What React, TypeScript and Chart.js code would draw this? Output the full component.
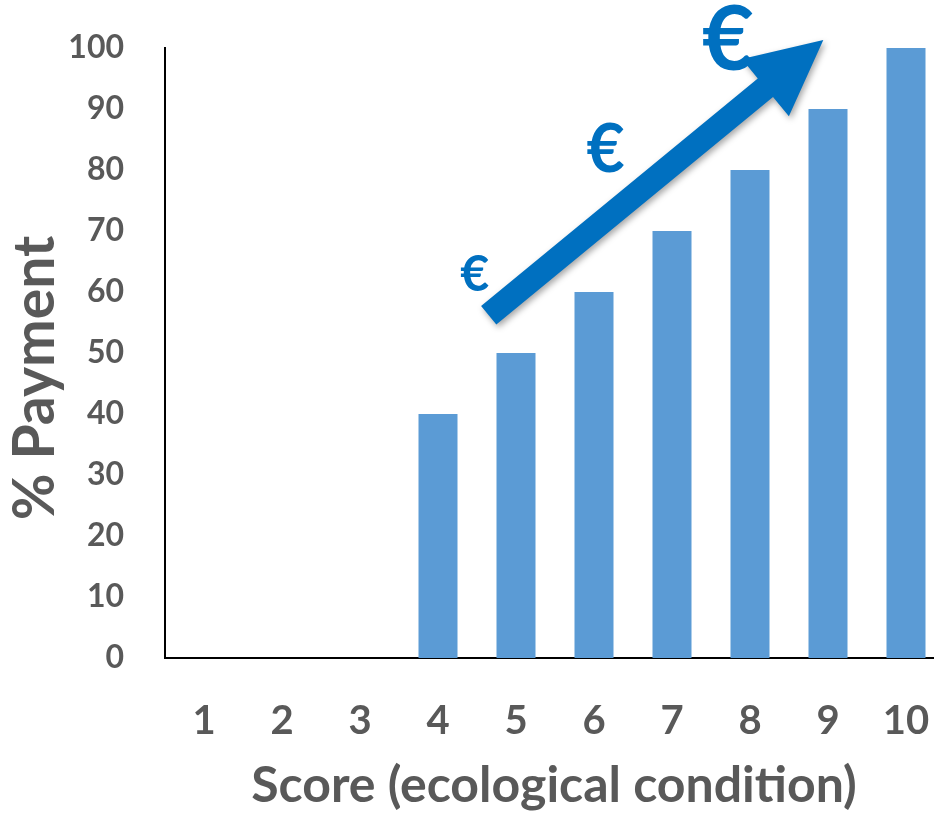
import React, { useEffect, useRef } from "react";
import { Chart, registerables } from "chart.js";

Chart.register(...registerables);

const categories = ["1", "2", "3", "4", "5", "6", "7", "8", "9", "10"];
const payment = [0, 0, 0, 40, 50, 60, 70, 80, 90, 100];
const yTicks = [0, 10, 20, 30, 40, 50, 60, 70, 80, 90, 100];
const xTitle = "Score (ecological condition)";
const yTitle = "% Payment";
// Arrow annotation (category index, value)
const arrowFrom = [3.65, 56.2];
const arrowTo = [7.94, 101.3];
// Euro symbols (category index, value, font size)
const euroX = [3.47, 5.15, 6.72];
const euroY = [62.8, 83.1, 101.1];
const euroSize = [50, 66, 90];

const FONT = "Lato, 'Open Sans', sans-serif";
const TEXT = "#595959";
const BLUE = "#0070C0";

const overlay = {
  id: "overlay",
  afterDatasetsDraw(chart: any) {
    const ctx = chart.ctx;
    const xs = chart.scales.x;
    const ys = chart.scales.y;
    const x0 = xs.getPixelForValue(arrowFrom[0]);
    const y0 = ys.getPixelForValue(arrowFrom[1]);
    const x1 = xs.getPixelForValue(arrowTo[0]);
    const y1 = ys.getPixelForValue(arrowTo[1]);
    const dx = x1 - x0, dy = y1 - y0;
    const len = Math.sqrt(dx * dx + dy * dy);
    const ux = dx / len, uy = dy / len;
    const nx = -uy, ny = ux;
    const shaftW = 24, headW = 74, headL = 75;
    const bx = x1 - ux * headL, by = y1 - uy * headL;
    ctx.save();
    ctx.shadowColor = "rgba(0,0,0,0.35)";
    ctx.shadowBlur = 6;
    ctx.shadowOffsetX = 2;
    ctx.shadowOffsetY = 3;
    ctx.fillStyle = BLUE;
    ctx.beginPath();
    ctx.moveTo(x0 + nx * shaftW / 2, y0 + ny * shaftW / 2);
    ctx.lineTo(bx + nx * shaftW / 2, by + ny * shaftW / 2);
    ctx.lineTo(bx + nx * headW / 2, by + ny * headW / 2);
    ctx.lineTo(x1, y1);
    ctx.lineTo(bx - nx * headW / 2, by - ny * headW / 2);
    ctx.lineTo(bx - nx * shaftW / 2, by - ny * shaftW / 2);
    ctx.lineTo(x0 - nx * shaftW / 2, y0 - ny * shaftW / 2);
    ctx.closePath();
    ctx.fill();
    ctx.restore();
    ctx.save();
    ctx.fillStyle = BLUE;
    ctx.textAlign = "center";
    ctx.textBaseline = "middle";
    for (let i = 0; i < euroX.length; i++) {
      ctx.font = `bold ${euroSize[i]}px ${FONT}`;
      ctx.fillText("€", xs.getPixelForValue(euroX[i]), ys.getPixelForValue(euroY[i]));
    }
    ctx.restore();
  },
  afterDraw(chart: any) {
    const ctx = chart.ctx;
    const area = chart.chartArea;
    ctx.save();
    ctx.fillStyle = TEXT;
    ctx.textAlign = "center";
    ctx.textBaseline = "middle";
    ctx.font = `bold 50px ${FONT}`;
    ctx.fillText(xTitle, 554, area.bottom + 128);
    ctx.translate(36, 378);
    ctx.rotate(-Math.PI / 2);
    ctx.font = `bold 57px ${FONT}`;
    ctx.fillText(yTitle, 0, 0);
    ctx.restore();
  },
};

function zeroPad(scale: any) {
  scale.paddingTop = 0;
  scale.paddingBottom = 0;
  scale.paddingLeft = 0;
  scale.paddingRight = 0;
}

export default function App() {
  const ref = useRef<HTMLCanvasElement>(null);
  useEffect(() => {
    if (!ref.current) return;
    const chart = new Chart(ref.current, {
      type: "bar",
      data: {
        labels: categories,
        datasets: [
          {
            data: payment,
            backgroundColor: "#5B9BD5",
            borderWidth: 0,
            barPercentage: 0.5,
            categoryPercentage: 1,
          },
        ],
      },
      options: {
        responsive: false,
        animation: false,
        layout: { padding: { top: 48, right: 5, left: 0, bottom: 0 } },
        plugins: { legend: { display: false }, tooltip: { enabled: false } },
        scales: {
          x: {
            grid: { display: false },
            border: { display: true, color: "#000", width: 2 },
            ticks: {
              color: TEXT,
              font: { family: FONT, size: 40, weight: "bold" },
              padding: 31,
              maxRotation: 0,
            },
            afterFit(scale: any) {
              scale.height = 157;
              zeroPad(scale);
            },
          },
          y: {
            min: 0,
            max: 100,
            grid: { display: false },
            border: { display: true, color: "#000", width: 2 },
            afterBuildTicks(scale: any) {
              scale.ticks = yTicks.map((v) => ({ value: v }));
            },
            ticks: {
              color: TEXT,
              font: { family: FONT, size: 32, weight: "bold" },
              padding: 33,
            },
            afterFit(scale: any) {
              scale.width = 165;
              zeroPad(scale);
            },
          },
        },
      },
      plugins: [overlay],
    });
    return () => chart.destroy();
  }, []);
  return (
    <div style={{ position: "fixed", left: 0, top: 0, width: 934, height: 815, overflow: "hidden", background: "#fff" }}>
      <canvas ref={ref} width={950} height={815} style={{ display: "block" }} />
    </div>
  );
}
